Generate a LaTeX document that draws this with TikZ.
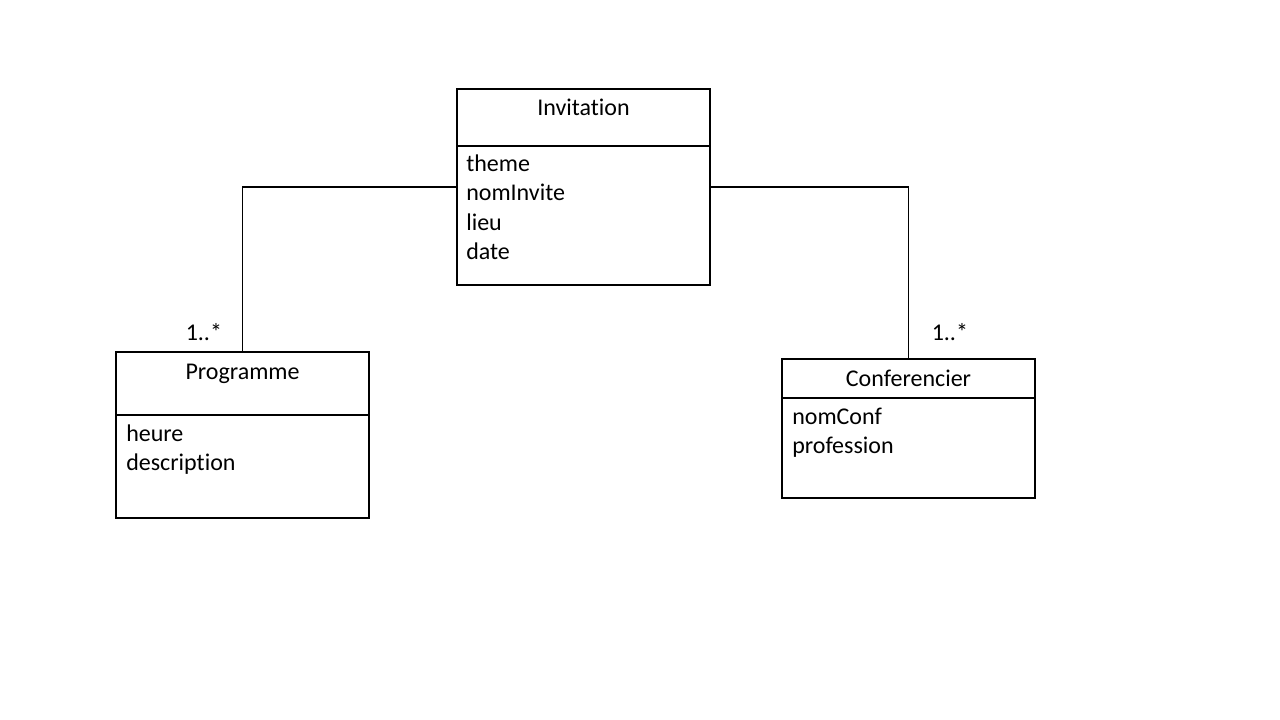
\documentclass[tikz,border=0pt]{standalone}
\usepackage{fontspec}
\setmainfont{Carlito}[Ligatures=NoCommon]
\usepackage{tikz}
\usetikzlibrary{calc,positioning}

\tikzset{
  classbox/.style={draw,line width=0.8pt,inner sep=0pt},
  txt/.style={inner sep=0pt,font=\fontsize{18}{22}\selectfont},
  assoc/.style={line width=0.8pt}
}

\begin{document}
\begin{tikzpicture}[x=0.75pt,y=-0.75pt]
  \useasboundingbox (0,0) rectangle (1280,720);
  % les trois classes
  \node (inv) [classbox,minimum width=189.75pt,minimum height=147pt] at (583.5,187) {};
  \node (prog) [classbox,minimum width=189.75pt,minimum height=124.5pt] at (242.5,435) {};
  \node (conf) [classbox,minimum width=189.75pt,minimum height=104.25pt] at (908.5,428.5) {};
  % separateurs nom / attributs
  \draw[line width=0.8pt] (inv.west |- 0,146) -- (inv.east |- 0,146);
  \draw[line width=0.8pt] (prog.west |- 0,415) -- (prog.east |- 0,415);
  \draw[line width=0.8pt] (conf.west |- 0,398) -- (conf.east |- 0,398);
  % noms des classes
  \node (invName) [txt,anchor=base] at (583.5,116) {Invitation};
  \node (progName) [txt,anchor=base] at (242.5,379) {Programme};
  \node (confName) [txt,anchor=base] at (908.5,386) {Conferencier};
  % attributs
  \node (aTheme) [txt,anchor=base west] at (466,172) {theme};
  \node (aNomInvite) [txt,anchor=base west] at (466,201) {nomInvite};
  \node (aLieu) [txt,anchor=base west] at (466,230) {lieu};
  \node (aDate) [txt,anchor=base west] at (466,259) {date};
  \node (aHeure) [txt,anchor=base west] at (126,441.5) {heure};
  \node (aDescription) [txt,anchor=base west] at (126,470.5) {description};
  \node (aNomConf) [txt,anchor=base west] at (792,424.5) {nomConf};
  \node (aProfession) [txt,anchor=base west] at (792,453.5) {profession};
  % associations
  \draw[assoc] (inv.west) -- (inv.west -| prog.north) -- (prog.north);
  \draw[assoc] (inv.east) -- (inv.east -| conf.north) -- (conf.north);
  \node (mulProg) [txt,anchor=base west] at (185.5,340.5) {1..*};
  \node (mulConf) [txt,anchor=base west] at (931.5,340.5) {1..*};
\end{tikzpicture}
\end{document}
